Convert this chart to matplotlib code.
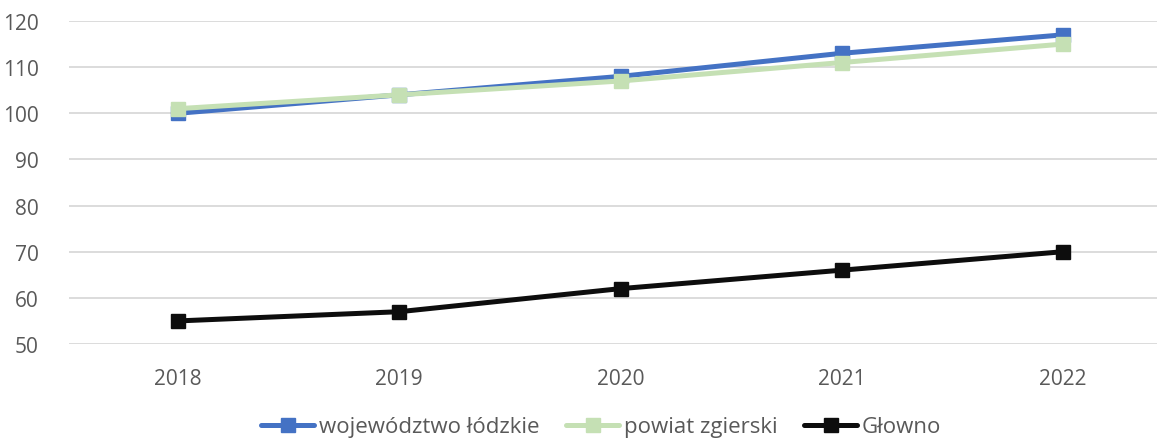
import matplotlib
matplotlib.use("Agg")
import matplotlib.pyplot as plt

years = ["2018", "2019", "2020", "2021", "2022"]
wojewodztwo = [100, 104, 108, 113, 117]
powiat = [101, 104, 107, 111, 115]
glowno = [55, 57, 62, 66, 70]
yticks = [50, 60, 70, 80, 90, 100, 110, 120]

plt.rcParams['font.family'] = ['Open Sans', 'DejaVu Sans']

fig = plt.figure(figsize=(11.57, 4.39), dpi=100)
ax = fig.add_axes([69/1157, 1-345/439, (1157-69)/1157, (345-22)/439])

x = list(range(len(years)))
series = [
    (wojewodztwo, "#4472C4", "województwo łódzkie"),
    (powiat, "#C5E0B4", "powiat zgierski"),
    (glowno, "#0D0D0D", "Głowno"),
]
for vals, col, lab in series:
    ax.plot(x, vals, color=col, lw=3.6, marker="s", markersize=10, label=lab,
            solid_capstyle="round")

ax.set_ylim(50, 120)
ax.set_xlim(-0.493, 4.425)
ax.set_yticks(yticks)
ax.set_xticks(x)
ax.set_xticklabels(years)
ax.grid(axis="y", color="#D9D9D9", lw=1.3)
ax.set_axisbelow(True)
for s in ax.spines.values():
    s.set_visible(False)
ax.tick_params(length=0, labelsize=15, colors="#595959")
ax.tick_params(axis="x", pad=17)
ax.tick_params(axis="y", pad=22)

leg = fig.legend(loc="center", bbox_to_anchor=(601/1157, 1-428/439), ncol=3, frameon=False,
                 fontsize=16, labelcolor="#595959", handlelength=2.4, handletextpad=0.2,
                 columnspacing=1.2)
fig.savefig("out.png", dpi=100)
